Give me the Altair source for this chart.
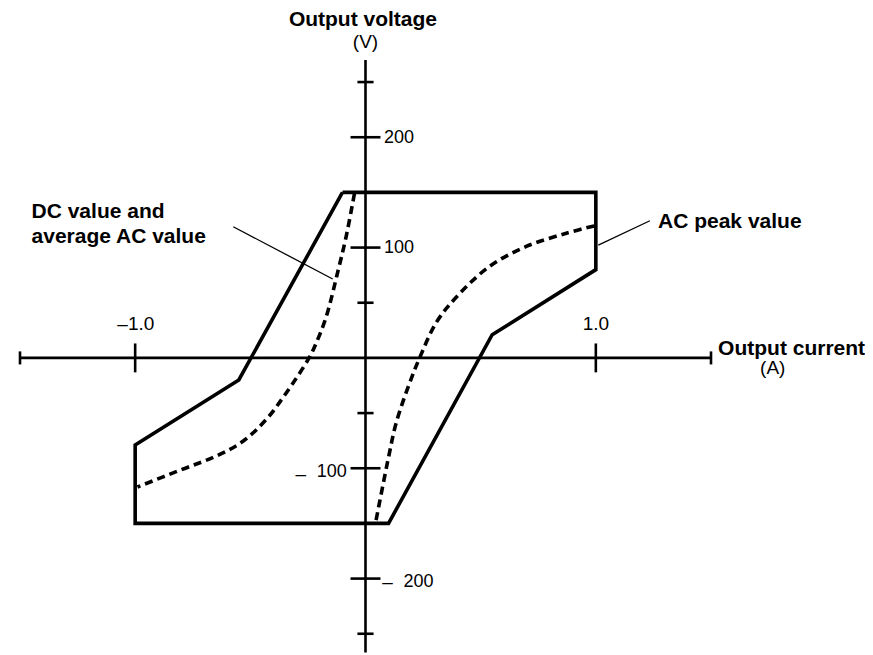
import altair as alt
import pandas as pd

# ---------------- data ----------------
# AC peak value: solid closed outline (current in A, voltage in V)
peak_current = [-0.10, 1.00, 1.00, 0.55, 0.10, -1.00, -1.00, -0.55, -0.10]
peak_voltage = [150, 150, 80, 21, -150, -150, -79, -20, 150]

# DC value and average AC value: two dashed curves
dc_right_current = [0.046, 0.075, 0.104, 0.133, 0.191, 0.235, 0.307, 0.394, 0.539, 0.698, 0.872, 1.0]
dc_right_voltage = [-147, -116, -86, -59, -23, 0, 32, 55, 83, 101, 113, 120]
dc_left_current = [-0.048, -0.056, -0.084, -0.118, -0.171, -0.214, -0.245, -0.345, -0.432, -0.535, -0.649, -0.796, -0.99]
dc_left_voltage = [149, 140, 110, 80, 37, 13.5, 0, -32, -56, -76, -89, -101, -117]

# axis ticks
x_ticks = [-1.5, -1.0, 1.0, 1.5]
x_major = [-1.0, 1.0]
y_ticks = [-250, -200, -150, -100, -50, 50, 100, 150, 200, 250]
y_major = [-200, -100, 100, 200]

# axis extents
x_axis_range = [-1.5, 1.5]
y_axis_range = [-267, 270]

# tick label texts
x_tick_labels = ["\u20131.0", "1.0"]
y_pos_labels = ["200", "100"]
y_neg_labels = ["100", "200"]

# ---------------- helpers ----------------
XS = alt.Scale(domain=[-1.5, 1.5], nice=False, zero=False)
YS = alt.Scale(domain=[-262, 270], nice=False, zero=False)
FONT = "Liberation Sans"


def xy(df):
    return dict(x=alt.X("x:Q", scale=XS, axis=None), y=alt.Y("y:Q", scale=YS, axis=None))


def rules(df, width):
    return alt.Chart(df).mark_rule(color="black", strokeWidth=width, strokeCap="butt").encode(
        x=alt.X("x:Q", scale=XS, axis=None), x2="x2:Q",
        y=alt.Y("y:Q", scale=YS, axis=None), y2="y2:Q")


# outline
peak_df = pd.DataFrame({"x": peak_current, "y": peak_voltage, "i": range(len(peak_current))})
peak = alt.Chart(peak_df).mark_line(color="black", strokeWidth=3.6, strokeJoin="miter").encode(
    order="i:Q", **xy(peak_df))

# dashed curves
dc_r = pd.DataFrame({"x": dc_right_current, "y": dc_right_voltage, "i": range(len(dc_right_current))})
dc_l = pd.DataFrame({"x": dc_left_current, "y": dc_left_voltage, "i": range(len(dc_left_current))})
dash_r = alt.Chart(dc_r).mark_line(color="black", strokeWidth=3.6, strokeDash=[8, 5],
                                   interpolate="catmull-rom").encode(order="i:Q", **xy(dc_r))
dash_l = alt.Chart(dc_l).mark_line(color="black", strokeWidth=3.6, strokeDash=[8, 5],
                                   interpolate="catmull-rom").encode(order="i:Q", **xy(dc_l))

# axes lines
axes_df = pd.DataFrame({
    "x": [x_axis_range[0], 0], "x2": [x_axis_range[1], 0],
    "y": [0, y_axis_range[0]], "y2": [0, y_axis_range[1]]})
axes = rules(axes_df, 2.6)

# ticks
xt_half = [13.1 if t in x_major else 5.9 for t in x_ticks]
xt_df = pd.DataFrame({"x": x_ticks, "x2": x_ticks,
                      "y": [-h for h in xt_half], "y2": xt_half})
yt_half = [0.065 if t in y_major else 0.035 for t in y_ticks]
yt_df = pd.DataFrame({"x": [-h for h in yt_half], "x2": yt_half,
                      "y": y_ticks, "y2": y_ticks})
ticks = rules(xt_df, 2.6) + rules(yt_df, 2.6)

# leader lines
lead_df = pd.DataFrame({"x": [-0.574, 1.0107], "x2": [-0.1424, 1.2347],
                        "y": [118.9, 102.3], "y2": [71.5, 124.3]})
leaders = rules(lead_df, 1.3)


def text_layer(df, align, size, weight="normal"):
    return alt.Chart(df).mark_text(align=align, baseline="alphabetic", font=FONT,
                                   fontSize=size, fontWeight=weight, color="black").encode(
        text="t:N", **xy(df))


bold_left = pd.DataFrame({"t": ["DC value and", "average AC value", "AC peak value"],
                          "x": [-1.450, -1.450, 1.270], "y": [127.1, 104.1, 118.0]})
bold_center = pd.DataFrame({"t": ["Output voltage", "Output current"],
                            "x": [-0.011, 1.850], "y": [300.8, 2.6]})
reg_center = pd.DataFrame({"t": ["(V)", "(A)"] + x_tick_labels + ["\u2013", "\u2013"],
                           "x": [0.0, 1.768, -0.997, 1.0, -0.2805, 0.0955],
                           "y": [280.6, -14.5, 25.3, 25.3, -110.7, -208.5]})
reg_left = pd.DataFrame({"t": y_pos_labels + [y_neg_labels[1]],
                         "x": [0.0803, 0.0803, 0.165], "y": [195.2, 94.8, -207.4]})
reg_right = pd.DataFrame({"t": [y_neg_labels[0]], "x": [-0.0816], "y": [-107.7]})

texts = (text_layer(bold_left, "left", 21, "bold") + text_layer(bold_center, "center", 21, "bold")
         + text_layer(reg_center, "center", 19) + text_layer(reg_left, "left", 18)
         + text_layer(reg_right, "right", 18))

chart = alt.layer(axes, ticks, leaders, peak, dash_r, dash_l, texts).properties(
    width=691, height=587, autosize="none", background="white",
    padding={"left": 12, "top": 52, "right": 154, "bottom": 7},
).configure_view(strokeWidth=0)

chart.save("out.html", embed_options={"renderer": "svg", "actions": False})
